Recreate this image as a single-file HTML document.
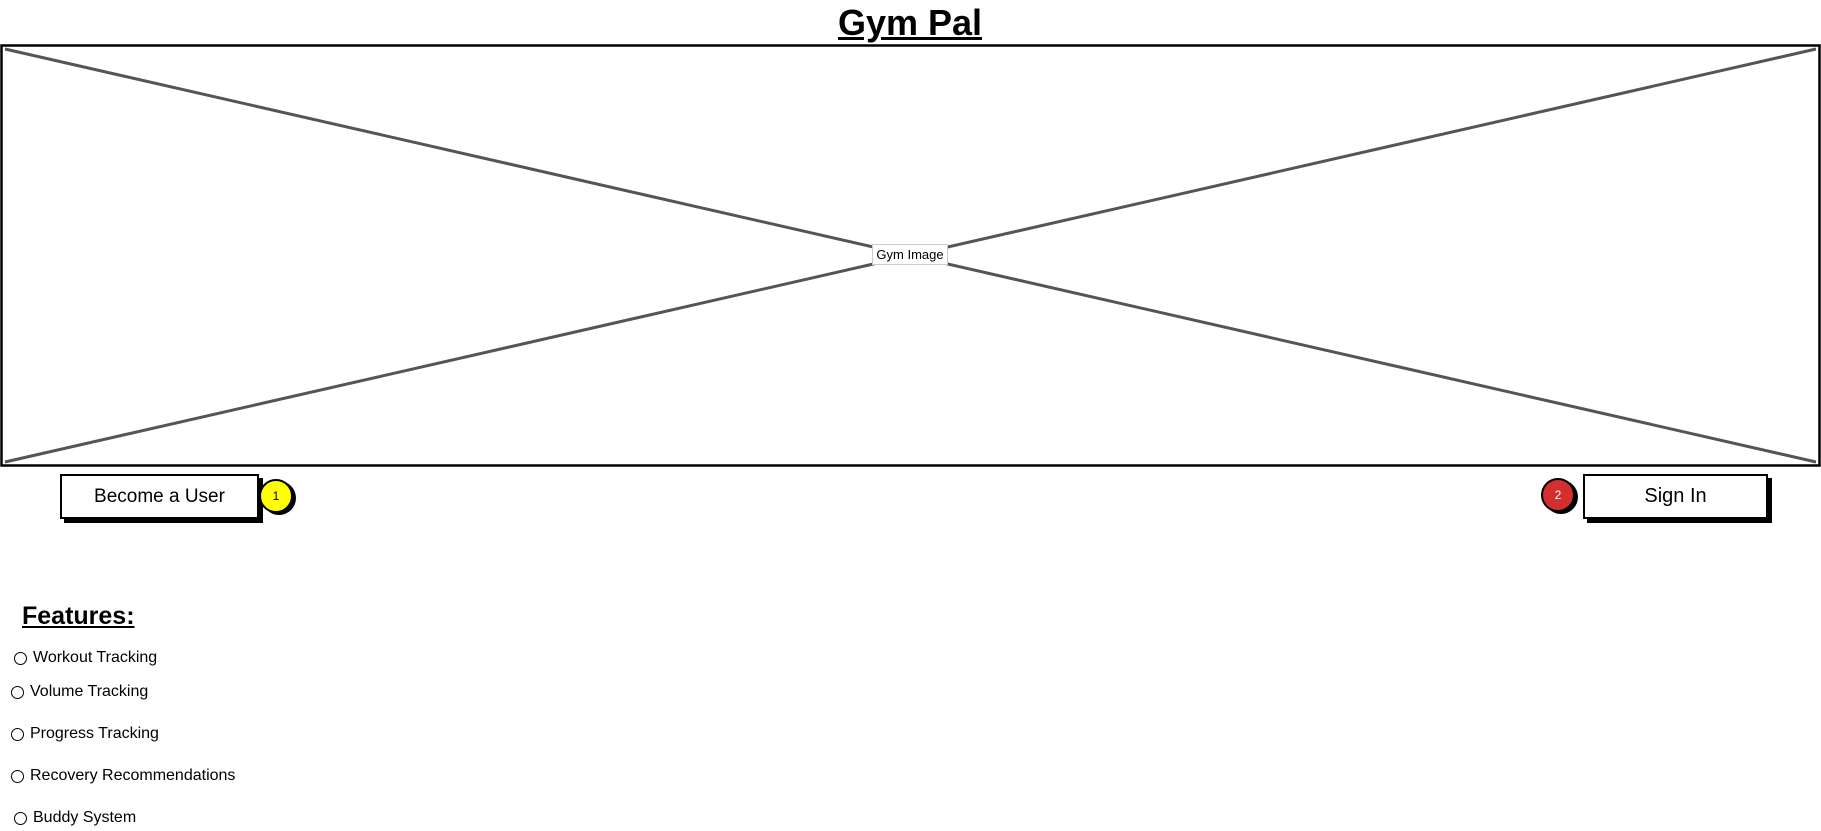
<!DOCTYPE html>
<html><head><meta charset="utf-8"><style>
body{margin:0;width:1821px;height:831px;background:#fff;position:relative;overflow:hidden;font-family:"Comic Sans MS","Liberation Sans",sans-serif;color:#000}
.abs{position:absolute}
.btn{position:absolute;background:#fff;border:2px solid #000;box-shadow:4px 4px 0 #000;font-size:19px;display:flex;align-items:center;justify-content:center;box-sizing:border-box}
.badge{position:absolute;width:34px;height:34px;border-radius:50%;border:2px solid #000;box-shadow:3px 2px 0 #000;font-size:12px;display:flex;align-items:center;justify-content:center;box-sizing:border-box}
.item{position:absolute;font-size:16px;display:flex;align-items:center;gap:6px}
.item span.c{width:11px;height:11px;border:1.5px solid #000;border-radius:50%;display:inline-block}
</style></head><body>
<div class="abs" style="left:820px;top:1px;width:180px;text-align:center;font-size:36px;font-weight:bold;text-decoration:underline;line-height:44px">Gym Pal</div>
<svg class="abs" style="left:0;top:0" width="1821" height="470">
<rect x="1.5" y="45.5" width="1818" height="420" fill="#fff" stroke="#000" stroke-width="2.5"/>
<line x1="5" y1="49" x2="1816" y2="462" stroke="#555" stroke-width="3"/>
<line x1="5" y1="462" x2="1816" y2="49" stroke="#555" stroke-width="3"/>
</svg>
<div class="abs" style="left:872px;top:244px;width:76px;height:21px;background:#fff;border:1px solid #ccc;font-size:13px;display:flex;align-items:center;justify-content:center;box-sizing:border-box">Gym Image</div>
<div class="btn" style="left:60px;top:474px;width:199px;height:45px">Become a User</div>
<div class="badge" style="left:259px;top:479px;background:#ff0">1</div>
<div class="badge" style="left:1541px;top:478px;background:#d32f2f;color:#fff">2</div>
<div class="btn" style="left:1583px;top:474px;width:185px;height:45px;font-size:20px">Sign In</div>
<div class="abs" style="left:22px;top:602px;font-size:25px;font-weight:bold;text-decoration:underline">Features:</div>
<div class="item" style="left:14px;top:649px"><span class="c"></span>Workout Tracking</div>
<div class="item" style="left:11px;top:683px"><span class="c"></span>Volume Tracking</div>
<div class="item" style="left:11px;top:725px"><span class="c"></span>Progress Tracking</div>
<div class="item" style="left:11px;top:767px"><span class="c"></span>Recovery Recommendations</div>
<div class="item" style="left:14px;top:809px"><span class="c"></span>Buddy System</div>
</body></html>
